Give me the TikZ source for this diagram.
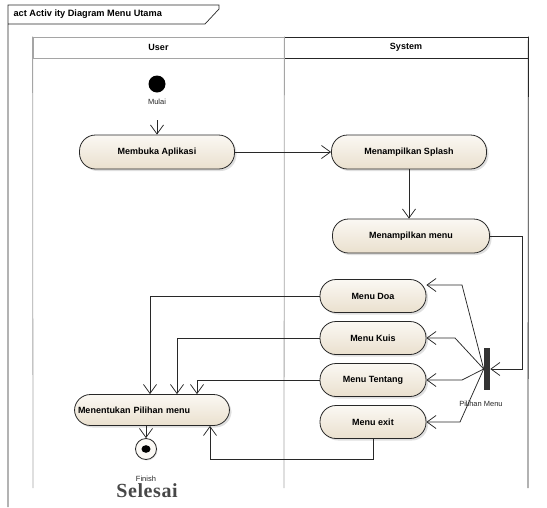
\documentclass[tikz,border=0pt]{standalone}
\usepackage{fontspec}
\setmainfont{Liberation Sans}
\newfontfamily\selesaifont{Liberation Serif}
\usetikzlibrary{positioning,shadows,arrows.meta}

\definecolor{actfill}{RGB}{246,241,231}
\definecolor{actdark}{RGB}{234,224,206}
\definecolor{edge}{RGB}{40,40,40}
\definecolor{lanegray}{RGB}{165,165,165}

\tikzstyle{act} = [rectangle, rounded corners=16pt, minimum width=155pt, minimum height=34pt, text centered, draw=edge, line width=0.8pt, top color=actfill!50!white, bottom color=actdark, drop shadow={opacity=0.25, shadow xshift=2pt, shadow yshift=-2pt}, font=\fontsize{9}{10}\selectfont\bfseries]
\tikzstyle{sub} = [act, minimum width=106pt, minimum height=33pt]
\tikzstyle{lbl} = [font=\fontsize{7.5}{8.5}\selectfont, inner sep=1pt, text=black!85]
\tikzstyle{lane} = [rectangle, minimum width=251pt, minimum height=21pt, line width=0.8pt, font=\fontsize{9}{10}\selectfont\bfseries]
\tikzstyle{initnode} = [circle, fill=black, minimum size=17pt, inner sep=0pt]
\tikzstyle{finalnode} = [circle, draw=edge, line width=0.8pt, fill=actfill!40!white, minimum size=21pt, inner sep=0pt, drop shadow={opacity=0.2, shadow xshift=1pt, shadow yshift=-1pt}, path picture={\fill[black] (path picture bounding box.center) ellipse (4.5pt and 3.8pt);}]
\tikzstyle{flow} = [draw=edge, line width=0.75pt, -{Straight Barb[length=9pt,width=13pt]}]

\begin{document}
\begin{tikzpicture}[x=1pt,y=-1pt,node distance=42pt,semithick]
        \useasboundingbox (0,0) rectangle (547,507);
        % frame
        \draw[edge, line width=0.7pt] (8,507) -- (8,5) -- (219,5) -- (219,9) -- (205,24) -- (8,24);
        \node[anchor=west, font=\fontsize{9.2}{10}\selectfont\bfseries] (frametitle) at (10,14.5) {act Activ ity Diagram Menu Utama};
        % lanes
        \node[lane, draw=lanegray] (userlane) at (158.5,47.5) {User};
        \node[lane, draw=black!85, minimum width=244pt] (syslane) at (406,47.5) {System};
        \draw[lanegray, line width=0.8pt] (userlane.north west) -- (33,488);
        \draw[lanegray, line width=0.8pt] (userlane.north east) -- (284,488);
        \draw[black!85, line width=0.8pt] (syslane.north east) -- (528,488);
        % nodes
        \node[initnode] (init) at (157,84) {};
        \node[lbl] (mulai) [below of=init, node distance=18pt] {Mulai};
        \node[act] (buka) at (157,152) {Membuka Aplikasi};
        \node[act] (splash) [right of=buka, xshift=210pt] {Menampilkan Splash};
        \node[act, minimum width=157pt] (menu) [below of=splash, yshift=-42pt, xshift=2pt] {Menampilkan menu};
        \node[sub] (doa) [below of=menu, yshift=-18pt, xshift=-38pt] {Menu Doa};
        \node[sub] (kuis) [below of=doa] {Menu Kuis};
        \node[sub] (tentang) [below of=kuis] {Menu Tentang};
        \node[sub] (exit) [below of=tentang] {Menu exit};
        \node[act, minimum height=31pt, text width=148pt, align=left, inner xsep=2pt] (tentukan) at (152,410) {Menentukan Pilihan menu};
        \node[finalnode] (final) [below of=tentukan, yshift=3pt, xshift=-6pt] {};
        \node[lbl] (finish) [below of=final, node distance=30pt] {Finish};
        \node[font=\selesaifont\fontsize{20}{21}\selectfont\bfseries, text=black!72, inner sep=0pt] (selesai) at (147,491) {S\kern0.6pt e\kern0.6pt l\kern0.6pt e\kern0.6pt s\kern0.6pt a\kern0.6pt i};
        \node[fill=black!80, minimum width=6pt, minimum height=42pt, inner sep=0pt] (fork) at (487,369) {};
        \node[lbl] (pilihan) at (481,404) {Pilihan Menu};
        \coordinate (turn) at (522,236);
        % connectors
        \draw[flow, shorten <=14pt] (mulai) -- (buka);
        \draw[flow] (buka) -- (splash);
        \draw[flow] (splash.south) -- (splash.south |- menu.north);
        \draw[flow] (menu.east) -- (turn) |- (fork.east);
        \draw[flow] (fork.west) -- (462,285) -- ([yshift=11pt]doa.east);
        \draw[flow] (fork.west) -- (455,338) -- (kuis.east);
        \draw[flow] (fork.west) -- (462,380) -- (tentang.east);
        \draw[flow] (fork.west) -- (460,422) -- (exit.east);
        \draw[flow] (doa.west) -| ([xshift=-2pt]tentukan.north);
        \draw[flow] (kuis.west) -| ([xshift=25pt]tentukan.north);
        \draw[flow] (tentang.west) -| ([xshift=45pt]tentukan.north);
        \draw[flow] (exit.south) -- ++(0,20) -| ([xshift=58pt]tentukan.south);
        \draw[flow] (tentukan.south -| final) -- (final);
    \end{tikzpicture}
\end{document}
